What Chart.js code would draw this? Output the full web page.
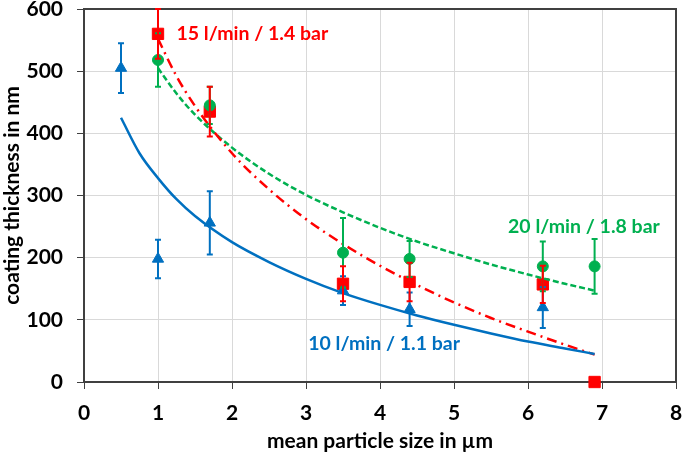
<!DOCTYPE html>
<html>
<head>
<meta charset="utf-8">
<script src="https://cdn.jsdelivr.net/npm/chart.js@4"></script>
<style>
  html, body { margin: 0; padding: 0; background: #fff; }
  #wrap { width: 685px; height: 454px; }
</style>
</head>
<body>
<div id="wrap"><canvas id="chart"></canvas></div>
<script>
// measured points (x = mean particle size, y = coating thickness)
const xBlue = [0.5, 1, 1.7, 3.5, 4.4, 6.2];
const yBlue = [505, 198, 256, 147, 117, 120];
const eBlue = [40, 31, 51, 23, 27, 33];

const xRed = [1, 1.7, 3.5, 4.4, 6.2, 6.9];
const yRed = [560, 435, 158, 161, 157, 0];
const eRed = [40, 40, 28, 31, 30, 0];

const xGreen = [1, 1.7, 3.5, 4.4, 6.2, 6.9];
const yGreen = [518, 445, 208, 198, 186, 186];
const eGreen = [43, 30, 56, 29, 40, 44];

// trend lines
const fitXBlue = [0.5, 0.75, 1, 1.25, 1.5, 2, 2.5, 3, 3.5, 4, 4.5, 5, 5.5, 6, 6.5, 6.9];
const fitBlue = [425, 368, 328, 294, 267, 225, 193, 166, 143, 124, 107, 92, 78, 65, 54, 45];
const fitXRed = [1, 1.25, 1.5, 2, 2.5, 3, 3.5, 4, 4.5, 5, 5.5, 6, 6.5, 6.9];
const fitRed = [552, 492, 444, 368, 310, 262, 222, 187, 156, 128, 103, 81, 60, 44];
const fitXGreen = [1, 1.25, 1.5, 2, 2.5, 3, 3.5, 4, 4.5, 5, 5.5, 6, 6.5, 6.9];
const fitGreen = [505, 464, 430, 377, 335, 301, 273, 248, 226, 207, 189, 173, 158, 147];

const labels = [
  { text: '15 l/min / 1.4 bar', x: 1.25, y: 561, color: '#ff0000' },
  { text: '20 l/min / 1.8 bar', x: 5.73, y: 249, color: '#00b050' },
  { text: '10 l/min / 1.1 bar', x: 3.03, y: 62, color: '#0070c0' }
];

const BLUE = '#0070c0', RED = '#ff0000', GREEN = '#00b050';
const FONT = 'Lato, "Liberation Sans", sans-serif';

const pts = (xs, ys) => xs.map((x, i) => ({ x: x, y: ys[i] }));

const errorBars = {
  id: 'errorBars',
  afterDatasetsDraw(chart) {
    const ctx = chart.ctx, xs = chart.scales.x, ys = chart.scales.y;
    chart.data.datasets.forEach(ds => {
      if (!ds.errors) return;
      ctx.save();
      ctx.strokeStyle = ds.borderColor;
      ctx.lineWidth = 2;
      ds.data.forEach((p, i) => {
        const e = ds.errors[i];
        if (!e) return;
        const px = xs.getPixelForValue(p.x);
        const top = ys.getPixelForValue(p.y + e);
        const bot = ys.getPixelForValue(p.y - e);
        ctx.beginPath();
        ctx.moveTo(px, top); ctx.lineTo(px, bot);
        ctx.moveTo(px - 3, top); ctx.lineTo(px + 3, top);
        ctx.moveTo(px - 3, bot); ctx.lineTo(px + 3, bot);
        ctx.stroke();
      });
      ctx.restore();
    });
  }
};

const frameAndText = {
  id: 'frameAndText',
  beforeDatasetsDraw(chart) {
    const a = chart.chartArea, ctx = chart.ctx;
    ctx.save();
    ctx.strokeStyle = '#404040';
    ctx.lineWidth = 2;
    ctx.beginPath();
    ctx.moveTo(a.left, a.top); ctx.lineTo(a.right, a.top); ctx.lineTo(a.right, a.bottom);
    ctx.stroke();
    ctx.restore();
  },
  afterDraw(chart) {
    const ctx = chart.ctx, xs = chart.scales.x, ys = chart.scales.y;
    ctx.save();
    ctx.font = 'bold 19.5px ' + FONT;
    ctx.textBaseline = 'middle';
    ctx.textAlign = 'left';
    labels.forEach(l => {
      ctx.fillStyle = l.color;
      ctx.fillText(l.text, xs.getPixelForValue(l.x), ys.getPixelForValue(l.y));
    });
    ctx.restore();
  }
};

new Chart(document.getElementById('chart'), {
  type: 'scatter',
  data: {
    datasets: [
      { data: pts(fitXBlue, fitBlue), showLine: true, borderColor: BLUE, borderWidth: 2.5,
        pointRadius: 0, cubicInterpolationMode: 'monotone' },
      { data: pts(fitXRed, fitRed), showLine: true, borderColor: RED, borderWidth: 2.5,
        borderDash: [10, 5, 2, 5], pointRadius: 0, cubicInterpolationMode: 'monotone' },
      { data: pts(fitXGreen, fitGreen), showLine: true, borderColor: GREEN, borderWidth: 2.5,
        borderDash: [6, 3], pointRadius: 0, cubicInterpolationMode: 'monotone' },
      { data: pts(xBlue, yBlue), errors: eBlue, borderColor: BLUE, backgroundColor: BLUE,
        pointStyle: 'triangle', pointRadius: 6.5, pointBorderWidth: 1, clip: false },
      { data: pts(xGreen, yGreen), errors: eGreen, borderColor: GREEN, backgroundColor: GREEN,
        pointStyle: 'circle', pointRadius: 5.5, pointBorderWidth: 1, clip: false },
      { data: pts(xRed, yRed), errors: eRed, borderColor: RED, backgroundColor: RED,
        pointStyle: 'rect', pointRadius: 8, pointBorderWidth: 1, clip: false }
    ]
  },
  options: {
    responsive: true,
    maintainAspectRatio: false,
    animation: false,
    layout: { padding: { top: 9, right: 6, left: 0, bottom: 0 } },
    plugins: { legend: { display: false }, tooltip: { enabled: false } },
    scales: {
      x: {
        type: 'linear', min: 0, max: 8,
        ticks: { stepSize: 1, color: '#000', font: { family: FONT, size: 21, weight: 'bold' }, padding: 12 },
        grid: { color: '#d9d9d9', tickColor: '#404040', tickLength: 7 },
        border: { color: '#404040', width: 2 },
        title: { display: true, text: 'mean particle size in µm', color: '#000',
                 font: { family: FONT, size: 21, weight: 'bold' }, padding: { top: 2, bottom: 0 } },
        afterFit(s) { s.height = 72; s.paddingRight = 0; s.paddingLeft = 0; }
      },
      y: {
        min: 0, max: 600,
        ticks: { stepSize: 100, color: '#000', font: { family: FONT, size: 21, weight: 'bold' }, padding: 14 },
        grid: { color: '#d9d9d9', tickColor: '#404040', tickLength: 7 },
        border: { color: '#404040', width: 2 },
        title: { display: true, text: 'coating thickness in nm', color: '#000',
                 font: { family: FONT, size: 21, weight: 'bold' }, padding: { top: 0, bottom: 2 } },
        afterFit(s) { s.width = 84; s.paddingTop = 0; s.paddingBottom = 0; }
      }
    }
  },
  plugins: [errorBars, frameAndText]
});
</script>
</body>
</html>
